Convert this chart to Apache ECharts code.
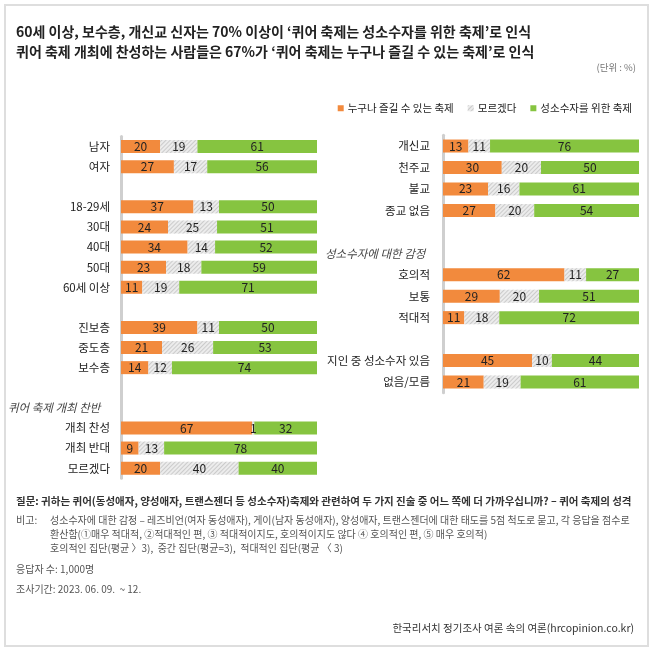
<!DOCTYPE html>
<html><head><meta charset="utf-8">
<script src="https://cdn.jsdelivr.net/npm/echarts@6/dist/echarts.min.js"></script>
<style>html,body{margin:0;padding:0;background:#fff}#c{width:654px;height:653px}</style>
</head><body><div id="c"></div>
<script>
const FONT = '"Noto Sans CJK KR", "Noto Sans", sans-serif';
const seriesNames = ['누구나 즐길 수 있는 축제', '모르겠다', '성소수자를 위한 축제'];
const seriesColors = ['#F28A3D', '#ECECEC', '#86C440'];

// Left panel ('' = spacer / group-title row)
const leftCategories = ['남자','여자','','18-29세','30대','40대','50대','60세 이상','','진보층','중도층','보수층','','','개최 찬성','개최 반대','모르겠다'];
const leftEnjoy    = [20,27,null,37,24,34,23,11,null,39,21,14,null,null,67,9,20];
const leftUnsure   = [19,17,null,13,25,14,18,19,null,11,26,12,null,null,1,13,40];
const leftMinority = [61,56,null,50,51,52,59,71,null,50,53,74,null,null,32,78,40];
const leftGroupTitle = '퀴어 축제 개최 찬반';
const leftGroupRow = 13;

// Right panel
const rightCategories = ['개신교','천주교','불교','종교 없음','','','호의적','보통','적대적','','지인 중 성소수자 있음','없음/모름'];
const rightEnjoy    = [13,30,23,27,null,null,62,29,11,null,45,21];
const rightUnsure   = [11,20,16,20,null,null,11,20,18,null,10,19];
const rightMinority = [76,50,61,54,null,null,27,51,72,null,44,61];
const rightGroupTitle = '성소수자에 대한 감정';
const rightGroupRow = 5;

const titleLines = [
  '60세 이상, 보수층, 개신교 신자는 70% 이상이 ‘퀴어 축제는 성소수자를 위한 축제’로 인식',
  '퀴어 축제 개최에 찬성하는 사람들은 67%가 ‘퀴어 축제는 누구나 즐길 수 있는 축제’로 인식'
];
const unitText = '(단위 : %)';
const noteQuestion = '질문: 귀하는 퀴어(동성애자, 양성애자, 트랜스젠더 등 성소수자)축제와 관련하여 두 가지 진술 중 어느 쪽에 더 가까우십니까? – 퀴어 축제의 성격';
const noteLabel = '비고:';
const noteLines = [
  '성소수자에 대한 감정 – 레즈비언(여자 동성애자), 게이(남자 동성애자), 양성애자, 트랜스젠더에 대한 태도를 5점 척도로 묻고, 각 응답을 점수로',
  '환산함(①매우 적대적, ②적대적인 편, ③ 적대적이지도, 호의적이지도 않다 ④ 호의적인 편, ⑤ 매우 호의적)',
  '호의적인 집단(평균 〉3),  중간 집단(평균=3),  적대적인 집단(평균 〈 3)'
];
const noteSample = '응답자 수: 1,000명';
const notePeriod = '조사기간: 2023. 06. 09.  ~ 12.';
const noteSource = '한국리서치 정기조사 여론 속의 여론(hrcopinion.co.kr)';

const hatch = {
  symbol: 'rect', symbolSize: 1,
  dashArrayX: [1, 0], dashArrayY: [1, 2],
  rotation: -Math.PI / 4,
  color: 'rgba(200,200,200,0.9)'
};

function buildSeries(arrays, idx) {
  const totals = arrays[0].map((_, i) => arrays[0][i] == null ? null : arrays[0][i] + arrays[1][i] + arrays[2][i]);
  return arrays.map((arr, k) => ({
    name: seriesNames[k],
    type: 'bar',
    stack: 'p' + idx,
    xAxisIndex: idx, yAxisIndex: idx,
    barWidth: 13,
    data: arr.map((v, i) => v == null ? null : v / totals[i] * 100),
    itemStyle: Object.assign({ color: seriesColors[k] }, k === 1 ? { decal: hatch } : {}),
    label: {
      show: true, position: 'inside',
      formatter: p => arr[p.dataIndex],
      fontFamily: FONT, fontSize: 12, color: '#222'
    },
    emphasis: { disabled: true }
  }));
}

function yAxisCfg(cats, idx, margin) {
  return {
    type: 'category', gridIndex: idx, inverse: true, data: cats, offset: 2,
    axisTick: { show: false },
    axisLine: { show: true, lineStyle: { color: '#cfcfcf', width: 3 } },
    axisLabel: { margin: margin, fontFamily: FONT, fontSize: 11.5, color: '#222' }
  };
}

const chart = echarts.init(document.getElementById('c'), null, { renderer: 'canvas' });

const textEl = (text, x, y, o) => ({
  type: 'text', x: x, y: y, silent: true,
  style: Object.assign({ text: text, fontFamily: FONT, fill: '#222', align: 'left', verticalAlign: 'middle' }, o || {})
});

const option = {
  animation: false,
  backgroundColor: '#fff',
  legend: {
    right: 17, top: 98, itemWidth: 6, itemHeight: 6, itemGap: 14, icon: 'rect',
    data: seriesNames,
    textStyle: { fontFamily: FONT, fontSize: 10.5, color: '#222', padding: [0, 0, 0, -1] },
    selectedMode: false
  },
  grid: [
    { left: 121, width: 196, top: 136.5, height: 341.7 },
    { left: 443, width: 196, top: 135.3, height: 257.4 }
  ],
  xAxis: [
    { type: 'value', gridIndex: 0, min: 0, max: 100, show: false },
    { type: 'value', gridIndex: 1, min: 0, max: 100, show: false }
  ],
  yAxis: [yAxisCfg(leftCategories, 0, 9), yAxisCfg(rightCategories, 1, 11)],
  series: buildSeries([leftEnjoy, leftUnsure, leftMinority], 0)
    .concat(buildSeries([rightEnjoy, rightUnsure, rightMinority], 1))
};
chart.setOption(option);

const yLeftTitle = chart.convertToPixel({ yAxisIndex: 0 }, leftGroupRow);
const yRightTitle = chart.convertToPixel({ yAxisIndex: 1 }, rightGroupRow);

chart.setOption({
  graphic: [
    { type: 'rect', shape: { x: 5, y: 5, width: 643, height: 641 }, style: { fill: 'none', stroke: '#dedede', lineWidth: 2 }, silent: true },
    textEl(titleLines[0], 16, 32, { fontSize: 14, fontWeight: 'bold' }),
    textEl(titleLines[1], 16, 52, { fontSize: 14, fontWeight: 'bold' }),
    textEl(unitText, 636, 67, { fontSize: 9.5, fill: '#777', align: 'right' }),
    textEl(leftGroupTitle, 8, yLeftTitle, { fontSize: 11.5, fontStyle: 'italic', fill: '#444' }),
    textEl(rightGroupTitle, 325, yRightTitle, { fontSize: 11.5, fontStyle: 'italic', fill: '#444' }),
    textEl(noteQuestion, 16, 501, { fontSize: 10.5, fontWeight: 'bold', fill: '#333' }),
    textEl(noteLabel, 16, 520, { fontSize: 10, fill: '#555' }),
    textEl(noteLines[0], 50, 520, { fontSize: 10, fill: '#555' }),
    textEl(noteLines[1], 50, 534, { fontSize: 10, fill: '#555' }),
    textEl(noteLines[2], 50, 548, { fontSize: 10, fill: '#555' }),
    textEl(noteSample, 16, 569, { fontSize: 10, fill: '#555' }),
    textEl(notePeriod, 16, 589, { fontSize: 10, fill: '#555' }),
    textEl(noteSource, 634, 628, { fontSize: 10.5, fill: '#333', align: 'right' })
  ]
});
</script></body></html>
